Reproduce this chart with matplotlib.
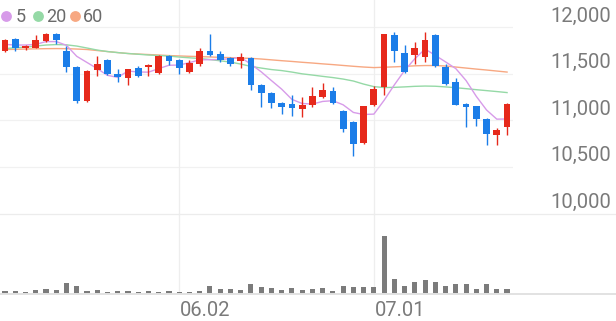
import matplotlib
matplotlib.use("Agg")
import matplotlib.pyplot as plt
import numpy as np
from matplotlib import transforms
from matplotlib.lines import Line2D

# ---------------- data ----------------
opens = [11740, 11870, 11770, 11780, 11850, 11930, 11740, 11570, 11210, 11540,
         11650, 11500, 11450, 11560, 11570, 11510, 11690, 11650, 11520, 11600,
         11740, 11710, 11670, 11640, 11670, 11380, 11290, 11190, 11170, 11120,
         11160, 11250, 11310, 11100, 10980, 10760, 11160, 11360, 11910, 11720,
         11700, 11680, 11910, 11570, 11410, 11170, 11150, 11010, 10840, 10930]
highs = [11870, 11880, 11810, 11910, 11940, 11940, 11800, 11580, 11540, 11690,
         11660, 11550, 11550, 11580, 11600, 11700, 11700, 11660, 11650, 11770,
         11930, 11740, 11680, 11720, 11680, 11390, 11300, 11200, 11270, 11250,
         11360, 11400, 11360, 11110, 10990, 11150, 11370, 11930, 11950, 11810,
         11840, 11950, 11920, 11600, 11450, 11180, 11150, 11020, 10920, 11180]
lows = [11730, 11740, 11750, 11770, 11840, 11820, 11520, 11190, 11200, 11480,
        11490, 11410, 11380, 11460, 11480, 11500, 11590, 11500, 11510, 11580,
        11690, 11630, 11580, 11560, 11330, 11140, 11130, 11070, 11050, 11040,
        11140, 11240, 11170, 10870, 10620, 10750, 11150, 11270, 11620, 11510,
        11600, 11630, 11570, 11380, 11160, 10930, 10940, 10730, 10740, 10840]
closes = [11860, 11770, 11800, 11860, 11930, 11860, 11570, 11210, 11530, 11600,
          11500, 11460, 11550, 11480, 11590, 11690, 11640, 11560, 11610, 11740,
          11700, 11650, 11600, 11680, 11380, 11290, 11180, 11140, 11130, 11160,
          11260, 11320, 11180, 10910, 10750, 11150, 11340, 11920, 11740, 11520,
          11780, 11860, 11580, 11390, 11160, 11140, 11010, 10850, 10900, 11170]
volumes = [27000, 27000, 23000, 37000, 53000, 37000, 113000, 80000, 33000, 40000,
           23000, 27000, 30000, 23000, 30000, 20000, 27000, 23000, 20000, 33000,
           77000, 47000, 53000, 37000, 103000, 67000, 57000, 35000, 57000, 43000,
           50000, 60000, 30000, 80000, 67000, 70000, 73000, 577000, 150000, 83000,
           117000, 140000, 120000, 83000, 100000, 100000, 47000, 100000, 53000, 53000]
ma5_head = [11814, 11807, 11807, 11814]
ma20 = [11769, 11777, 11785, 11796, 11807, 11812, 11809, 11796, 11775, 11753,
        11737, 11726, 11716, 11708, 11700, 11694, 11689, 11678, 11670, 11662,
        11651, 11638, 11624, 11603, 11578, 11560, 11544, 11533, 11517, 11498,
        11485, 11471, 11458, 11442, 11421, 11388, 11361, 11351, 11353, 11358,
        11364, 11367, 11365, 11358, 11349, 11339, 11328, 11318, 11308, 11297]
ma60 = [11759, 11761, 11764, 11766, 11768, 11769, 11768, 11764, 11759, 11748,
        11737, 11726, 11716, 11710, 11705, 11700, 11694, 11690, 11686, 11683,
        11679, 11675, 11672, 11667, 11664, 11657, 11648, 11639, 11631, 11622,
        11614, 11605, 11597, 11588, 11579, 11571, 11565, 11569, 11573, 11578,
        11584, 11587, 11587, 11582, 11571, 11560, 11549, 11539, 11528, 11517]
price_ticks = [10000, 10500, 11000, 11500, 12000]
date_tick_pos = [17, 36]
date_tick_labels = ["06.02", "07.01"]
legend_labels = ["5", "20", "60"]

# ---------------- style ----------------
RED = "#e6291b"
BLUE = "#1b7de8"
C5, C20, C60 = "#d79be9", "#95d9a6", "#f7a882"
VOLC = "#7b7b7b"
TXT = "#7a7a7a"
plt.rcParams["font.family"] = ["Roboto", "DejaVu Sans"]

W, H = 616, 321
fig = plt.figure(figsize=(W / 100, H / 100), dpi=100)
fig.patch.set_facecolor("white")


def fy(py):
    return 1 - py / H


ax = fig.add_axes([0, fy(213.5), 513 / W, 213.5 / H])
axv = fig.add_axes([0, fy(294), 513 / W, (294 - 213.5) / H])
for a in (ax, axv):
    a.axis("off")
    a.set_xlim(-0.49, 49.58)
ax.set_ylim(10000, 12290)
axv.set_ylim(0, max(volumes) * 1.38)

o = np.array(opens, float)
h = np.array(highs, float)
l = np.array(lows, float)
c = np.array(closes, float)
x = np.arange(len(c))

# grid lines
for p in price_ticks[1:]:
    ax.axhline(p, color="#f1f1f1", lw=0.9, zorder=0)
for xp in date_tick_pos:
    ax.axvline(xp, color="#eeeeee", lw=0.9, zorder=0)
    axv.axvline(xp, color="#eeeeee", lw=0.9, zorder=0)
fig.add_artist(Line2D([0, 1], [fy(213.5), fy(213.5)], color="#ececec", lw=0.9))
fig.add_artist(Line2D([0, 1], [fy(294.3), fy(294.3)], color="#e2e2e2", lw=1.4))

# moving averages
ma5 = np.concatenate([ma5_head, np.convolve(c, np.ones(5) / 5, "valid")])
ax.plot(x, ma60, color=C60, lw=1.0, zorder=2)
ax.plot(x, ma20, color=C20, lw=1.0, zorder=2)
ax.plot(x, ma5, color=C5, lw=1.0, zorder=2)

# candles
up = c >= o
colors = np.where(up, RED, BLUE)
ax.vlines(x, l, h, colors=colors, lw=1.0, zorder=3)
bottom = np.minimum(o, c)
height = np.maximum(np.abs(c - o), 12)
ax.bar(x, height, bottom=bottom, width=0.66, color=colors, zorder=4, linewidth=0)

# volume
axv.bar(x, volumes, width=0.5, color=VOLC, linewidth=0)

# price labels
bt = transforms.blended_transform_factory(ax.transAxes, ax.transData)
bt = transforms.offset_copy(bt, fig=fig, x=0, y=5.5, units="dots")
for p in price_ticks:
    ax.text(611.5 / 513, p, f"{p:,}", transform=bt, ha="right", va="baseline",
            fontsize=14.5, color=TXT, clip_on=False)

# date labels
dt = transforms.blended_transform_factory(axv.transData, fig.transFigure)
for xp, lab in zip(date_tick_pos, date_tick_labels):
    axv.text(xp + 0.1, fy(316.5), lab, transform=dt, ha="left", va="baseline",
             fontsize=14.5, color=TXT, clip_on=False)

# legend
leg_cols = [C5, C20, C60]
leg_cx = [5.5, 37.5, 74.5]
leg_tx = [15.5, 46.5, 83]
for col, cx, tx, lab in zip(leg_cols, leg_cx, leg_tx, legend_labels):
    fig.add_artist(Line2D([cx / W], [fy(15.5)], marker="o", markersize=7.8,
                          color=col, markeredgewidth=0, linestyle="none"))
    fig.text(tx / W, fy(21.5), lab, ha="left", va="baseline", fontsize=13,
             color="#6a6a6a")

fig.savefig("out.png", dpi=100, facecolor="white")
